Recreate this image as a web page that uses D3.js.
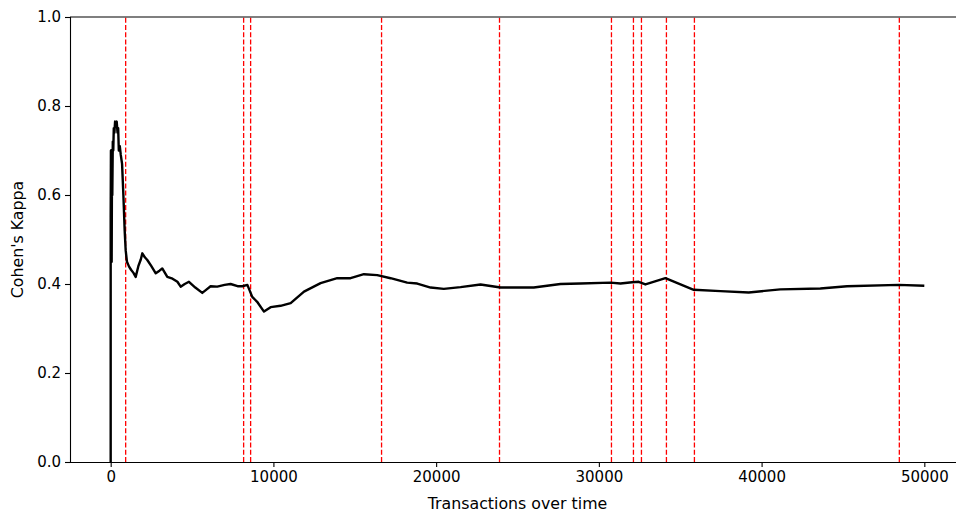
<!DOCTYPE html>
<html>
<head>
<meta charset="utf-8">
<script src="https://cdn.jsdelivr.net/npm/d3@7"></script>
<style>
  body { margin: 0; background: #fff; }
  svg { display: block; font-family: "DejaVu Sans", sans-serif; }
</style>
</head>
<body>
<div id="chart"></div>
<script>
// kappa over time
const kappaX = [0, 0, 15, 30, 45, 60, 80, 100, 130, 160, 190, 230, 270, 320, 370, 420, 460, 500, 560, 620, 700, 780, 860, 921,
  1000, 1130, 1250, 1400, 1536, 1700, 1850, 1945, 2100, 2250, 2500, 2770, 3000, 3170, 3480, 3800, 4100, 4300, 4550, 4810,
  5200, 5630, 5900, 6140, 6550, 7000, 7370, 7800, 8090, 8400, 8700, 9000, 9420, 9830, 10440, 11060, 11880,
  12900, 13920, 14740, 15560, 16380, 17200, 18220, 18840, 19660, 20470, 21500, 22730, 23960, 25000, 26000,
  27640, 28870, 30710, 31330, 32040, 32450, 32860, 34090, 35830, 37470, 39210, 41150, 43610, 45250, 48420, 50000];
const kappaY = [0, 0.55, 0.70, 0.52, 0.70, 0.45, 0.66, 0.60, 0.72, 0.70, 0.75, 0.74, 0.765, 0.76, 0.765, 0.74, 0.75, 0.70, 0.71, 0.69, 0.67, 0.60, 0.52, 0.476,
  0.45, 0.439, 0.432, 0.425, 0.416, 0.44, 0.455, 0.469, 0.46, 0.454, 0.44, 0.424, 0.43, 0.435, 0.416, 0.412, 0.405, 0.394, 0.40, 0.405,
  0.392, 0.380, 0.388, 0.395, 0.394, 0.398, 0.400, 0.395, 0.395, 0.398, 0.371, 0.36, 0.338, 0.348, 0.351, 0.357, 0.383,
  0.402, 0.413, 0.413, 0.422, 0.420, 0.413, 0.403, 0.401, 0.392, 0.389, 0.393, 0.399, 0.392, 0.392, 0.392,
  0.400, 0.401, 0.403, 0.401, 0.404, 0.405, 0.399, 0.413, 0.387, 0.384, 0.381, 0.388, 0.390, 0.395, 0.398, 0.396];

// detected drift points (red dashed lines)
const driftPoints = [921, 8170, 8600, 16646, 23894, 30774, 32125, 32617, 34152, 35872, 48464];

const xTicks = [0, 10000, 20000, 30000, 40000, 50000];
const yTicks = [0, 0.2, 0.4, 0.6, 0.8, 1.0];

const width = 956;
const height = 515;

const marginTop = 17;
const marginLeft = 70;
const marginBottom = 53;
const plotRight = 965; // right spine falls just outside the window

const svg = d3.select('#chart').append('svg')
  .attr('width', width)
  .attr('height', height);

const x = d3.scaleLinear()
  .domain([-2500, 52500])
  .range([marginLeft, plotRight]);

const y = d3.scaleLinear()
  .domain([0, 1])
  .range([height - marginBottom, marginTop]);

// red dashed drift markers
svg.selectAll('.drift')
  .data(driftPoints)
  .enter().append('line')
  .attr('class', 'drift')
  .attr('x1', d => x(d)).attr('x2', d => x(d))
  .attr('y1', y(0)).attr('y2', y(1))
  .attr('stroke', '#ff0000')
  .attr('stroke-width', 1.3)
  .attr('stroke-dasharray', '5,2.2');

const points = kappaX.map((v, i) => [v, kappaY[i]]);

const line = d3.line()
  .x(d => x(d[0]))
  .y(d => y(d[1]));

svg.append('path')
  .datum(points)
  .attr('fill', 'none')
  .attr('stroke', '#000')
  .attr('stroke-width', 2.4)
  .attr('stroke-linejoin', 'round')
  .attr('d', line);

// axes
const xAxis = svg.append('g')
  .attr('transform', `translate(0, ${y(0)})`)
  .call(d3.axisBottom(x).tickValues(xTicks).tickFormat(d3.format('d')).tickSize(5).tickPadding(4));

const yAxis = svg.append('g')
  .attr('transform', `translate(${marginLeft}, 0)`)
  .call(d3.axisLeft(y).tickValues(yTicks).tickFormat(d3.format('.1f')).tickSize(5).tickPadding(4));

[xAxis, yAxis].forEach(g => {
  g.select('.domain').attr('stroke', '#000').attr('stroke-width', 1.1);
  g.selectAll('.tick line').attr('stroke', '#000').attr('stroke-width', 1.1);
  g.selectAll('.tick text')
    .attr('fill', '#000')
    .style('font-size', '15px')
    .style('font-family', '"DejaVu Sans", sans-serif');
});
xAxis.select('.domain').attr('d', `M${marginLeft},0.5H${plotRight}`);
yAxis.select('.domain').attr('d', `M0.5,${y(0)}V${y(1)}`);

// top spine
svg.append('line')
  .attr('x1', marginLeft).attr('x2', plotRight)
  .attr('y1', y(1)).attr('y2', y(1))
  .attr('stroke', '#000')
  .attr('stroke-width', 1.1);

// labels
svg.append('text')
  .attr('x', (marginLeft + plotRight) / 2)
  .attr('y', 509)
  .attr('text-anchor', 'middle')
  .attr('fill', '#000')
  .style('font-size', '15.8px')
  .text('Transactions over time');

svg.append('text')
  .attr('transform', `translate(23, ${(y(0) + y(1)) / 2}) rotate(-90)`)
  .attr('text-anchor', 'middle')
  .attr('fill', '#000')
  .style('font-size', '15.8px')
  .text("Cohen's Kappa");
</script>
</body>
</html>
